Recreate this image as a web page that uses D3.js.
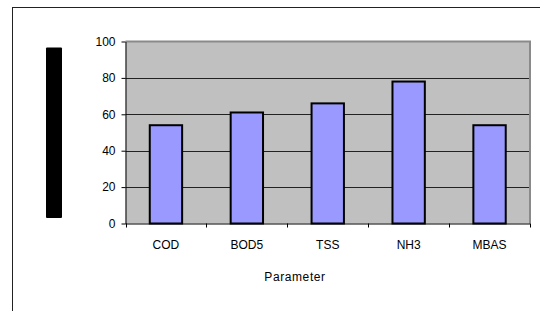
<!DOCTYPE html>
<html>
<head>
<meta charset="utf-8">
<script src="https://cdn.jsdelivr.net/npm/d3@7"></script>
<style>
  body { margin: 0; background: #fff; }
  svg text { font-family: Arial, "Liberation Sans", sans-serif; }
</style>
</head>
<body>
<div class="chart"></div>
<script>
const categories = ["COD", "BOD5", "TSS", "NH3", "MBAS"];
const values = [54, 61, 66, 78, 54];
const yTicks = [0, 20, 40, 60, 80, 100];
const xTitle = "Parameter";

const width = 540;
const height = 311;
const plot = { left: 125.5, right: 530, top: 41.5, bottom: 223.5 };

const svg = d3.select(".chart")
    .append("svg")
    .attr("width", width)
    .attr("height", height);

// outer chart frame
svg.append("rect")
    .attr("x", 12.5)
    .attr("y", 7.5)
    .attr("width", 600)
    .attr("height", 400)
    .attr("fill", "#fff")
    .attr("stroke", "#222")
    .attr("stroke-width", 1);

// the blacked-out y axis title
svg.append("rect")
    .attr("x", 46)
    .attr("y", 47.5)
    .attr("width", 16)
    .attr("height", 170.5)
    .attr("rx", 1)
    .attr("fill", "#000");

const x = d3.scaleBand()
    .domain(categories)
    .range([plot.left, plot.right])
    .paddingInner(0)
    .paddingOuter(0);

const y = d3.scaleLinear()
    .domain([0, 100])
    .range([plot.bottom, plot.top]);

// plot background
svg.append("rect")
    .attr("x", plot.left)
    .attr("y", plot.top)
    .attr("width", plot.right - plot.left)
    .attr("height", plot.bottom - plot.top)
    .attr("fill", "#c0c0c0");

// grid lines
svg.append("g")
    .selectAll("line")
    .data(yTicks.filter(d => d > 0 && d < 100))
    .join("line")
    .attr("x1", plot.left)
    .attr("x2", plot.right)
    .attr("y1", d => Math.round(y(d)) + 0.5)
    .attr("y2", d => Math.round(y(d)) + 0.5)
    .attr("stroke", "#222")
    .attr("stroke-width", 1);

// plot border (top and right in grey)
svg.append("path")
    .attr("d", `M${plot.left},${plot.top} H${plot.right} V${plot.bottom}`)
    .attr("fill", "none")
    .attr("stroke", "#8a8a8a")
    .attr("stroke-width", 2);

// bars
const barW = x.bandwidth() * 0.4;
svg.append("g")
    .selectAll("rect")
    .data(categories.map((c, i) => ({ c, v: values[i] })))
    .join("rect")
    .attr("x", d => x(d.c) + (x.bandwidth() - barW) / 2)
    .attr("y", d => y(d.v))
    .attr("width", barW)
    .attr("height", d => y(0) - y(d.v))
    .attr("fill", "#9999ff")
    .attr("stroke", "#000")
    .attr("stroke-width", 2);

// y axis
const yAxis = svg.append("g")
    .attr("transform", `translate(${plot.left},0)`)
    .call(d3.axisLeft(y).tickValues(yTicks).tickSize(4).tickPadding(6).tickSizeOuter(0));
yAxis.select(".domain").attr("stroke", "#000");
yAxis.selectAll("line").attr("stroke", "#000");
yAxis.selectAll("text")
    .attr("font-size", 12)
    .attr("fill", "#000")
    .attr("font-family", "Arial, 'Liberation Sans', sans-serif");

// x axis
const xAxis = svg.append("g")
    .attr("transform", `translate(0,${plot.bottom})`)
    .call(d3.axisBottom(x).tickSize(0).tickPadding(17));
xAxis.select(".domain").attr("stroke", "#000").attr("d", `M${plot.left},0.5H${plot.right}`);
xAxis.selectAll("text")
    .attr("font-size", 12)
    .attr("fill", "#000")
    .attr("font-family", "Arial, 'Liberation Sans', sans-serif");

// band boundary ticks
svg.append("g")
    .selectAll("line")
    .data(categories.map(c => x(c)).concat([plot.right]))
    .join("line")
    .attr("x1", d => Math.round(d) + 0.5)
    .attr("x2", d => Math.round(d) + 0.5)
    .attr("y1", plot.bottom)
    .attr("y2", plot.bottom + 4)
    .attr("stroke", "#000");

// x axis title
svg.append("text")
    .attr("x", 295)
    .attr("y", 281)
    .attr("text-anchor", "middle")
    .attr("font-size", 12)
    .attr("letter-spacing", 0.6)
    .text(xTitle);
</script>
</body>
</html>
